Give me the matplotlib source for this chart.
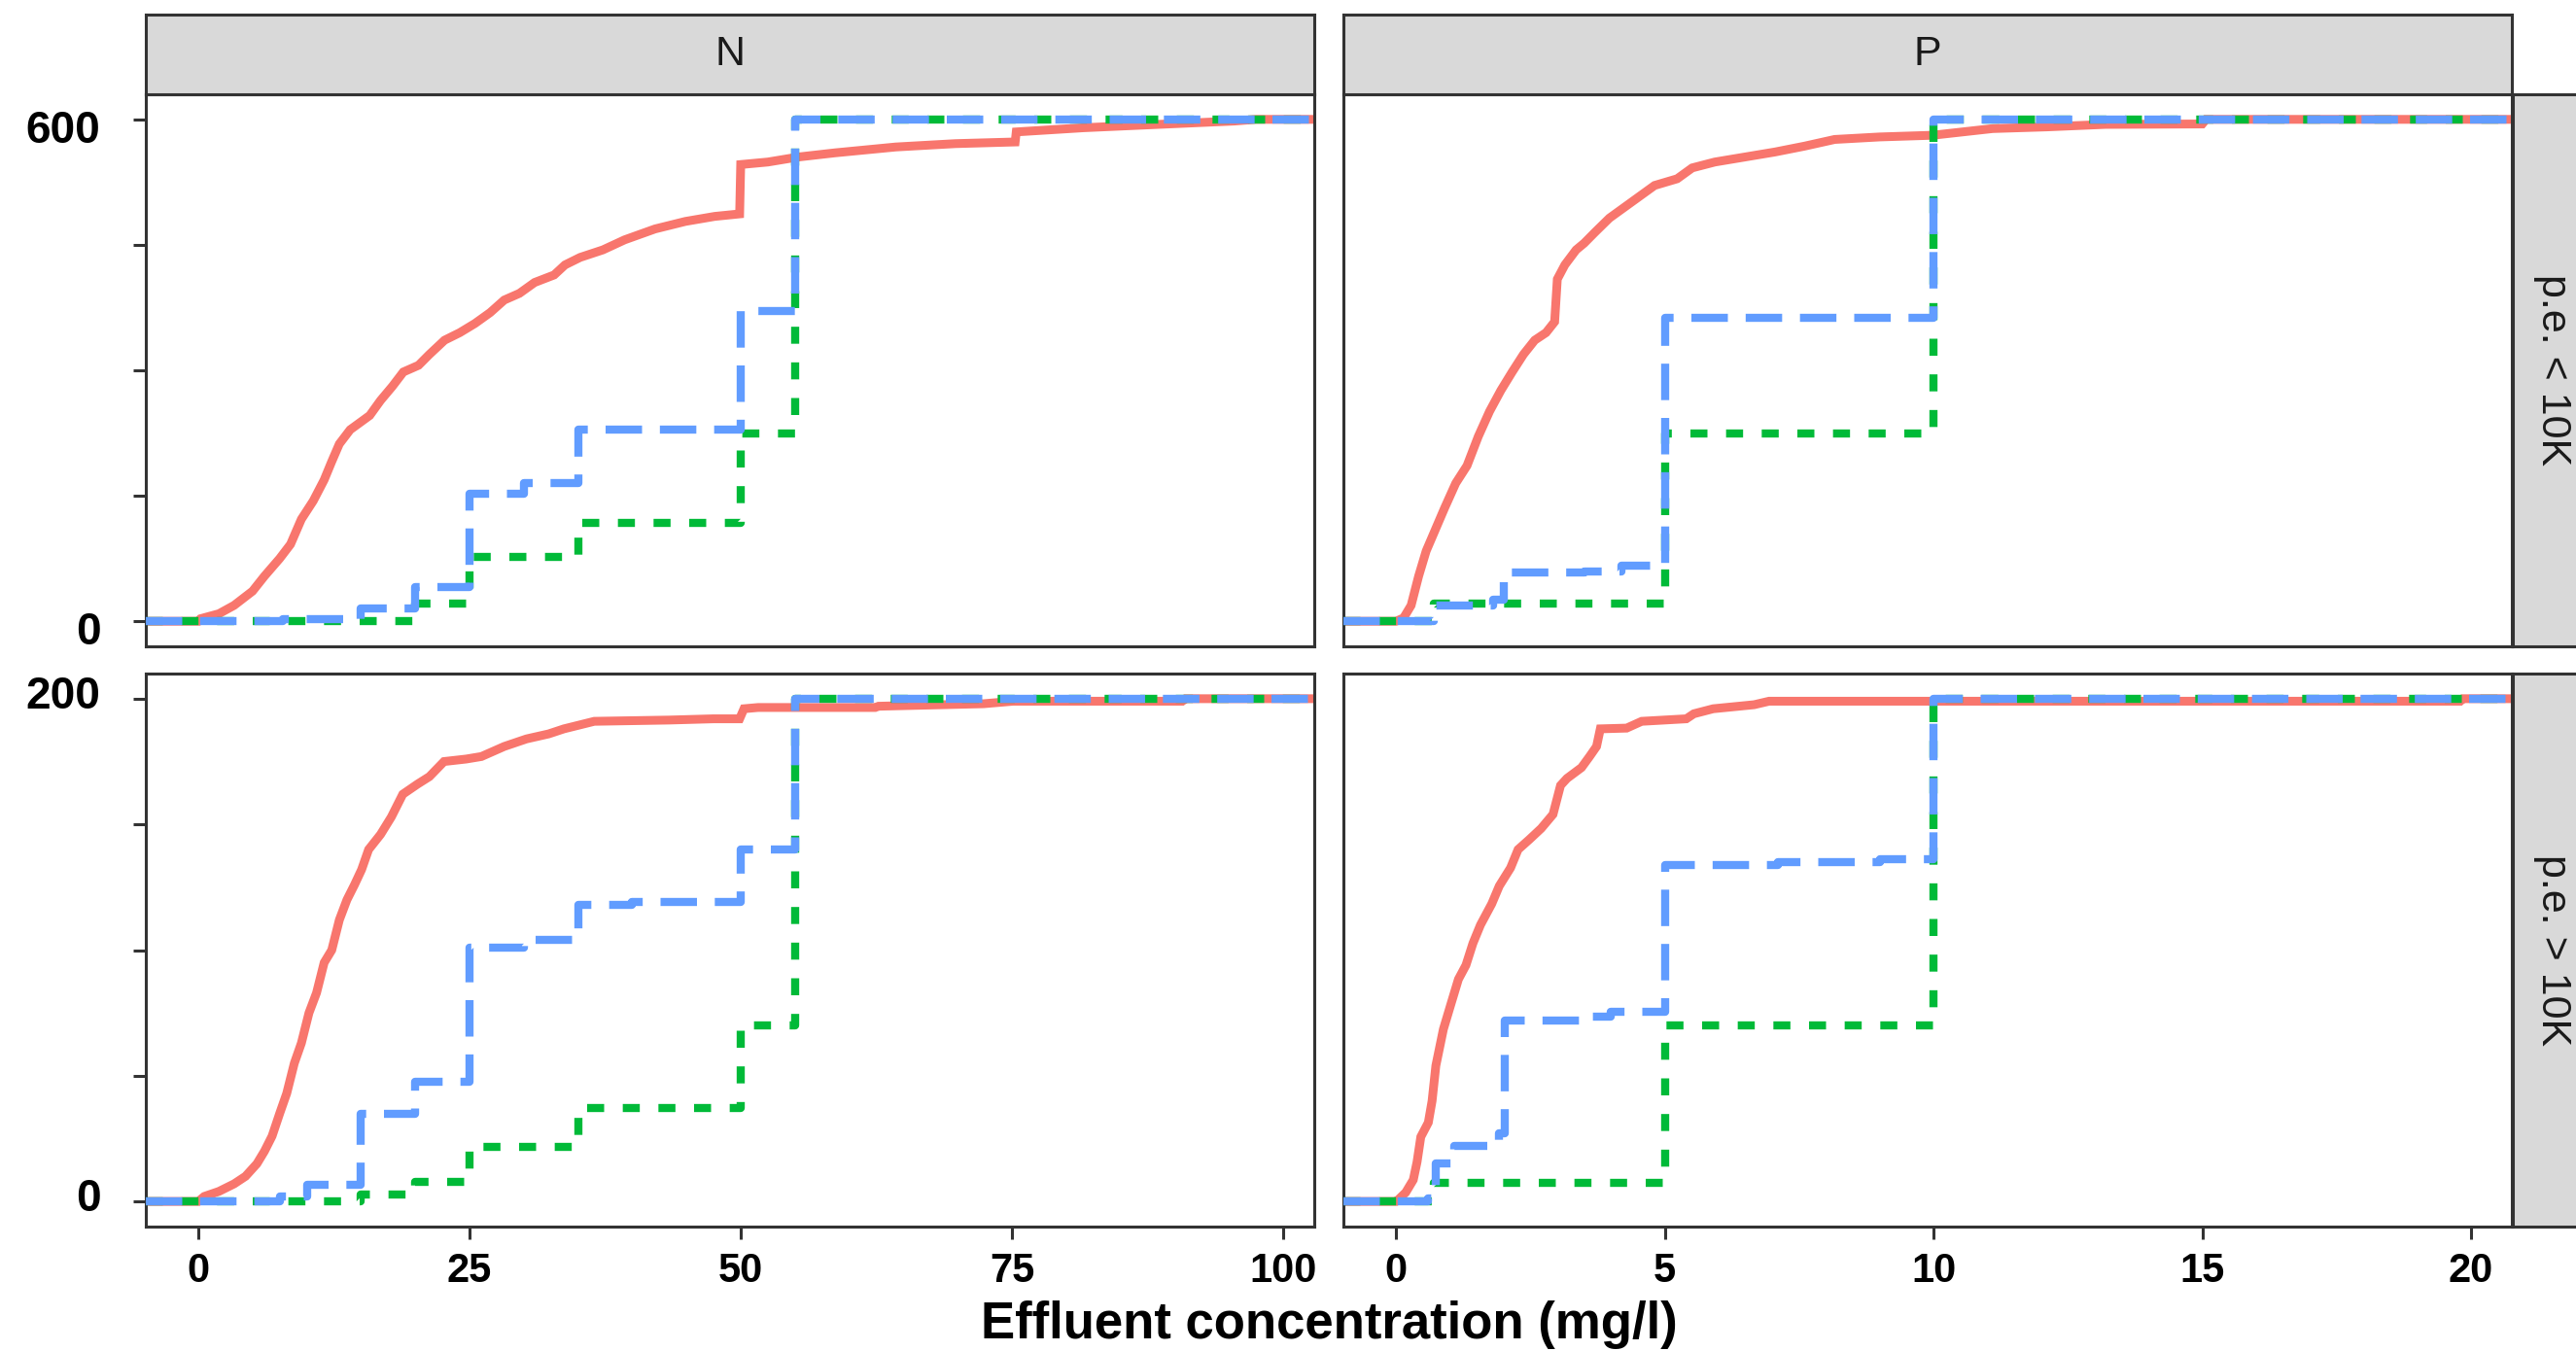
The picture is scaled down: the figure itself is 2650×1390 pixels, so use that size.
import matplotlib
matplotlib.use("Agg")
import matplotlib.pyplot as plt
from matplotlib.transforms import ScaledTranslation

W, H = 2650, 1390

RED = "#F8766D"
GREEN = "#00BA38"
BLUE = "#619CFF"
DARK = "#333333"
STRIP = "#D9D9D9"

col_labels = ["N", "P"]
row_labels = ["p.e. < 10K", "p.e. > 10K"]
x_label = "Effluent concentration (mg/l)"

n_ticks = [0, 25, 50, 75, 100]
p_ticks = [0, 5, 10, 15, 20]
small_yticks = [0, 150, 300, 450, 600]
large_yticks = [0, 50, 100, 150, 200]

# N, p.e. < 10K
n_small_red_x = [0, 0.2, 1.9, 3.3, 5.0, 6.1, 7.5, 8.5, 9.5, 10.6, 11.6, 12.3, 13.0, 14.0, 15.8,
                 16.8, 17.9, 18.9, 20.3, 21.3, 22.7, 24.1, 25.5, 26.9, 28.2, 29.6, 31.0, 32.8,
                 33.8, 35.2, 37.3, 39.3, 42.1, 44.9, 47.6, 49.9, 50.0, 52.5, 55.3, 58.7, 64.3,
                 69.8, 75.3, 75.4, 81.6, 88.5, 95.5, 97.5]
n_small_red_y = [0, 3, 9, 19, 36, 54, 75, 92, 122, 144, 169, 191, 212, 229, 246, 264, 281, 298,
                 306, 319, 336, 345, 356, 369, 384, 392, 405, 414, 426, 435, 444, 456, 469, 478,
                 484, 487, 546, 549, 555, 560, 567, 571, 573, 585, 590, 594, 598, 600]
n_small_blue_x = [7.8, 15, 20, 25, 30, 35, 50, 55]
n_small_blue_y = [3, 15, 41, 152, 165, 229, 371, 600]
n_small_green_x = [20, 25, 35, 50, 55]
n_small_green_y = [21, 77, 118, 225, 600]

# P, p.e. < 10K
p_small_red_x = [0, 0.14, 0.28, 0.42, 0.56, 0.7, 0.9, 1.11, 1.32, 1.53, 1.74, 1.95, 2.16, 2.37,
                 2.58, 2.79, 2.95, 3.0, 3.14, 3.35, 3.5, 3.7, 3.97, 4.25, 4.53, 4.81, 5.23, 5.51,
                 5.93, 6.49, 7.05, 7.6, 8.16, 9.0, 9.98, 11.1, 12.1, 13.2, 15.0, 15.07]
p_small_red_y = [0, 4, 19, 54, 84, 105, 135, 165, 186, 221, 251, 276, 298, 319, 336, 345, 358,
                 409, 426, 444, 452, 465, 482, 495, 508, 521, 529, 542, 549, 555, 561, 568, 576,
                 579, 581, 589, 591, 594, 594.5, 600]
p_small_blue_x = [0.7, 1.8, 2, 3.5, 4.2, 5, 10]
p_small_blue_y = [19, 26, 58, 60, 66, 363, 600]
p_small_green_x = [0.7, 5, 10]
p_small_green_y = [21, 225, 600]

# N, p.e. > 10K
n_large_red_x = [0, 0.55, 1.9, 3.3, 4.35, 5.4, 6.1, 6.8, 7.5, 8.15, 8.85, 9.5, 10.2, 10.9, 11.6,
                 12.3, 13.0, 13.7, 14.4, 15.05, 15.7, 16.8, 17.8, 18.85, 20.2, 21.3, 22.65, 24.7,
                 26.1, 28.2, 30.25, 32.3, 33.7, 36.5, 43.4, 47.5, 49.9, 50.3, 51.6, 62.4, 62.7,
                 72.4, 75.1, 90.7, 91.0]
n_large_red_y = [0, 2, 4, 7, 10, 15, 20, 26, 35, 43, 55, 63, 75, 83, 95, 100, 112, 120, 126, 132,
                 140, 146, 153, 162, 166, 169, 175, 176, 177, 181, 184, 186, 188, 191, 191.5, 192,
                 192, 196, 196.5, 196.5, 197, 198, 199, 199, 200]
n_large_blue_x = [7.5, 10, 15, 20, 25, 30, 35, 40, 50, 55]
n_large_blue_y = [1.8, 6.8, 35, 47.5, 101, 104, 118, 119, 140, 200]
n_large_green_x = [15, 20, 25, 35, 50, 55]
n_large_green_y = [2.6, 7.8, 21.8, 37.2, 70, 200]

# P, p.e. > 10K
p_large_red_x = [0, 0.04, 0.18, 0.32, 0.39, 0.46, 0.6, 0.67, 0.74, 0.88, 1.02, 1.16, 1.3, 1.43,
                 1.57, 1.78, 1.92, 2.13, 2.27, 2.48, 2.7, 2.92, 3.06, 3.18, 3.45, 3.6, 3.73, 3.8,
                 4.29, 4.57, 5.4, 5.54, 5.9, 6.66, 6.94, 19.8, 19.85]
p_large_red_y = [0, 0.7, 3.6, 8.6, 15.7, 25.7, 31.4, 40, 54, 68.5, 78.5, 88.4, 94, 102.7, 110,
                 118.4, 125.5, 132.7, 140, 144, 148.4, 154, 165.5, 168.3, 172.6, 177, 181, 188,
                 188.3, 191, 192, 194, 196, 197.6, 199, 199, 200]
p_large_blue_x = [0.6, 0.74, 1.09, 1.92, 2.03, 3.5, 4.0, 5, 7.1, 9.0, 10]
p_large_blue_y = [1.4, 15, 22, 27, 72, 73.5, 75.6, 134, 135, 136, 200]
p_large_green_x = [0.7, 5, 10]
p_large_green_y = [7.4, 70, 200]

LW = 6.0
RED_LW = 6.5


def px_axes(fig, x0, y0, x1, y1):
    # pixel box (top-left origin) -> figure axes
    return fig.add_axes([x0 / W, 1 - y1 / H, (x1 - x0) / W, (y1 - y0) / H])


def draw_panel(ax, xlim, ylim, red, blue, green):
    lo, hi = xlim
    rx, ry = red
    ax.plot([lo] + rx + [hi], [0] + ry + [ry[-1]], color=RED, lw=RED_LW,
            solid_capstyle="butt", solid_joinstyle="miter", zorder=2)
    gx, gy = green
    ax.plot([lo] + gx + [hi], [0] + gy + [gy[-1]], color=GREEN, lw=LW,
            drawstyle="steps-post", dashes=(2.1, 2.3), dash_capstyle="butt", zorder=3)
    bx, by = blue
    ax.plot([lo] + bx + [hi], [0] + by + [by[-1]], color=BLUE, lw=LW,
            drawstyle="steps-post", dashes=(4.5, 2.2), dash_capstyle="butt", zorder=4)
    ax.set_xlim(xlim)
    ax.set_ylim(ylim)
    for s in ax.spines.values():
        s.set_color(DARK)
        s.set_linewidth(2.2)
    ax.tick_params(length=9.4, width=2.2, color=DARK)


def strip(fig, x0, y0, x1, y1, label, rot=0):
    sa = px_axes(fig, x0, y0, x1, y1)
    sa.set_facecolor(STRIP)
    sa.set_xticks([])
    sa.set_yticks([])
    for s in sa.spines.values():
        s.set_color(DARK)
        s.set_linewidth(2.2)
    sa.text(0.5, 0.5, label, transform=sa.transAxes, ha="center", va="center",
            rotation=rot, fontsize=31, color="#1A1A1A", family="Liberation Sans")


fig = plt.figure(figsize=(W / 100, H / 100), dpi=100)

cols = [(150, 1352), (1382, 2584)]
rows = [(97, 665), (693, 1262)]
xlims = [(-4.84, 102.87), (-0.98, 20.76)]
ylims = [(-30, 630), (-10, 210)]
xticks = [n_ticks, p_ticks]
yticks = [small_yticks, large_yticks]
label_shift = [-7, 7]  # px, the y labels sit a little off their ticks

series = {
    (0, 0): ((n_small_red_x, n_small_red_y), (n_small_blue_x, n_small_blue_y),
             (n_small_green_x, n_small_green_y)),
    (0, 1): ((p_small_red_x, p_small_red_y), (p_small_blue_x, p_small_blue_y),
             (p_small_green_x, p_small_green_y)),
    (1, 0): ((n_large_red_x, n_large_red_y), (n_large_blue_x, n_large_blue_y),
             (n_large_green_x, n_large_green_y)),
    (1, 1): ((p_large_red_x, p_large_red_y), (p_large_blue_x, p_large_blue_y),
             (p_large_green_x, p_large_green_y)),
}

for r, (y0, y1) in enumerate(rows):
    for c, (x0, x1) in enumerate(cols):
        ax = px_axes(fig, x0, y0, x1, y1)
        red, blue, green = series[(r, c)]
        draw_panel(ax, xlims[c], ylims[r], red, blue, green)

        if r == 1:
            ax.set_xticks(xticks[c])
            ax.set_xticklabels([str(t) for t in xticks[c]], fontsize=30,
                               fontweight="bold", family="Liberation Sans")
            ax.tick_params(axis="x", pad=9)
        else:
            ax.set_xticks([])
        if c == 0:
            yt = yticks[r]
            ax.set_yticks(yt)
            ax.set_yticklabels([str(t) if t in (yt[0], yt[-1]) else "" for t in yt],
                               fontsize=33, fontweight="bold", family="Liberation Sans")
            ax.tick_params(axis="y", pad=24)
            shift = ScaledTranslation(0, label_shift[r] / 100, fig.dpi_scale_trans)
            for lab in ax.get_yticklabels():
                lab.set_transform(lab.get_transform() + shift)
        else:
            ax.set_yticks([])

for c, (x0, x1) in enumerate(cols):
    strip(fig, x0, 15, x1, 97, col_labels[c])
for r, (y0, y1) in enumerate(rows):
    strip(fig, 2585, y0, 2667, y1, row_labels[r], rot=270)

fig.text(1367 / W, 1 - 1377 / H, x_label, ha="center", va="baseline",
         fontsize=38, fontweight="bold", family="Liberation Sans")

fig.savefig("out.png", dpi=100)
